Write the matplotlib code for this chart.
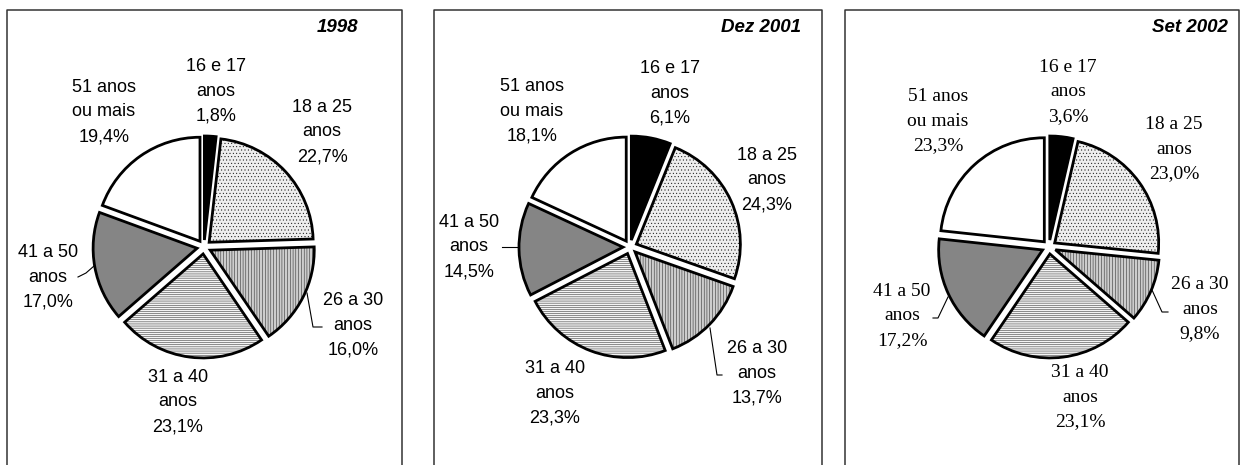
import numpy as np
import matplotlib.pyplot as plt

W, H = 1241, 465

titles = ['1998', 'Dez 2001', 'Set 2002']
groups = ['16 e 17\nanos', '18 a 25\nanos', '26 a 30\nanos',
          '31 a 40\nanos', '41 a 50\nanos', '51 anos\nou mais']
shares_1998 = [1.8, 22.7, 16.0, 23.1, 17.0, 19.4]
shares_2001 = [6.1, 24.3, 13.7, 23.3, 14.5, 18.1]
shares_2002 = [3.6, 23.0, 9.8, 23.1, 17.2, 23.3]
all_shares = [shares_1998, shares_2001, shares_2002]

# look of the slices (same order as groups)
faces = ['black', '#eeeeee', '#cdcdcd', '#f4f4f4', '#858585', 'white']
hatches = [None, '.....', '||||||', '--------', None, None]

# layout, in pixels from the top-left corner
boxes = [(7, 402), (434, 822), (845, 1239)]
centers = [(204, 247), (630, 247), (1049, 247)]
title_pos = [(358, 28), (801, 28), (1228, 28)]
label_pos = [
    [(216, 91), (322, 132), (353, 325), (178, 402), (48, 277), (104, 112)],
    [(670, 93), (767, 180), (757, 373), (555, 393), (469, 247), (532, 111)],
    [(1068, 92), (1174, 149), (1200, 309), (1080, 397), (902, 316), (938, 121)],
]
leaders = [
    {2: [(322, 327), (313, 327), (307, 293)], 4: [(78, 277), (86, 273), (94, 266)]},
    {2: [(722, 375), (717, 375), (710, 328)], 4: [(502, 247), (517, 247)]},
    {2: [(1168, 312), (1162, 312), (1152, 290)], 4: [(933, 318), (938, 318), (948, 297)]},
]
label_fonts = ['Liberation Sans', 'Liberation Sans', 'Liberation Serif']
label_sizes = [13, 13, 14]

plt.rcParams['hatch.linewidth'] = 0.3

fig = plt.figure(figsize=(W / 100, H / 100), dpi=100)
ax = fig.add_axes([0, 0, 1, 1])

for k in range(3):
    cx, cy = centers[k]
    wedges, _ = ax.pie(all_shares[k], center=(cx, H - cy), radius=104, startangle=90,
                       counterclock=False, explode=[7] * 6, colors=faces, hatch=hatches,
                       wedgeprops=dict(edgecolor='black', linewidth=2))

    x0, x1 = boxes[k]
    ax.plot([x0, x0, x1, x1], [-5, H - 10, H - 10, -5], color='#333333', lw=1.1)

    tx, ty = title_pos[k]
    ax.text(tx, H - ty, titles[k], ha='right', va='center', fontsize=13.5,
            fontweight='bold', fontstyle='italic', family='Liberation Sans')

    for i, (g, v) in enumerate(zip(groups, all_shares[k])):
        lx, ly = label_pos[k][i]
        txt = g + '\n' + f'{v:.1f}'.replace('.', ',') + '%'
        ax.text(lx, H - ly, txt, ha='center', va='center', multialignment='center',
                fontsize=label_sizes[k], family=label_fonts[k], linespacing=1.6)

    for pts in leaders[k].values():
        xs = [p[0] for p in pts]
        ys = [H - p[1] for p in pts]
        ax.plot(xs, ys, color='black', lw=0.8)

ax.set_xlim(0, W)
ax.set_ylim(0, H)
ax.set_aspect('equal')
ax.axis('off')

fig.savefig('out.png', dpi=100)
